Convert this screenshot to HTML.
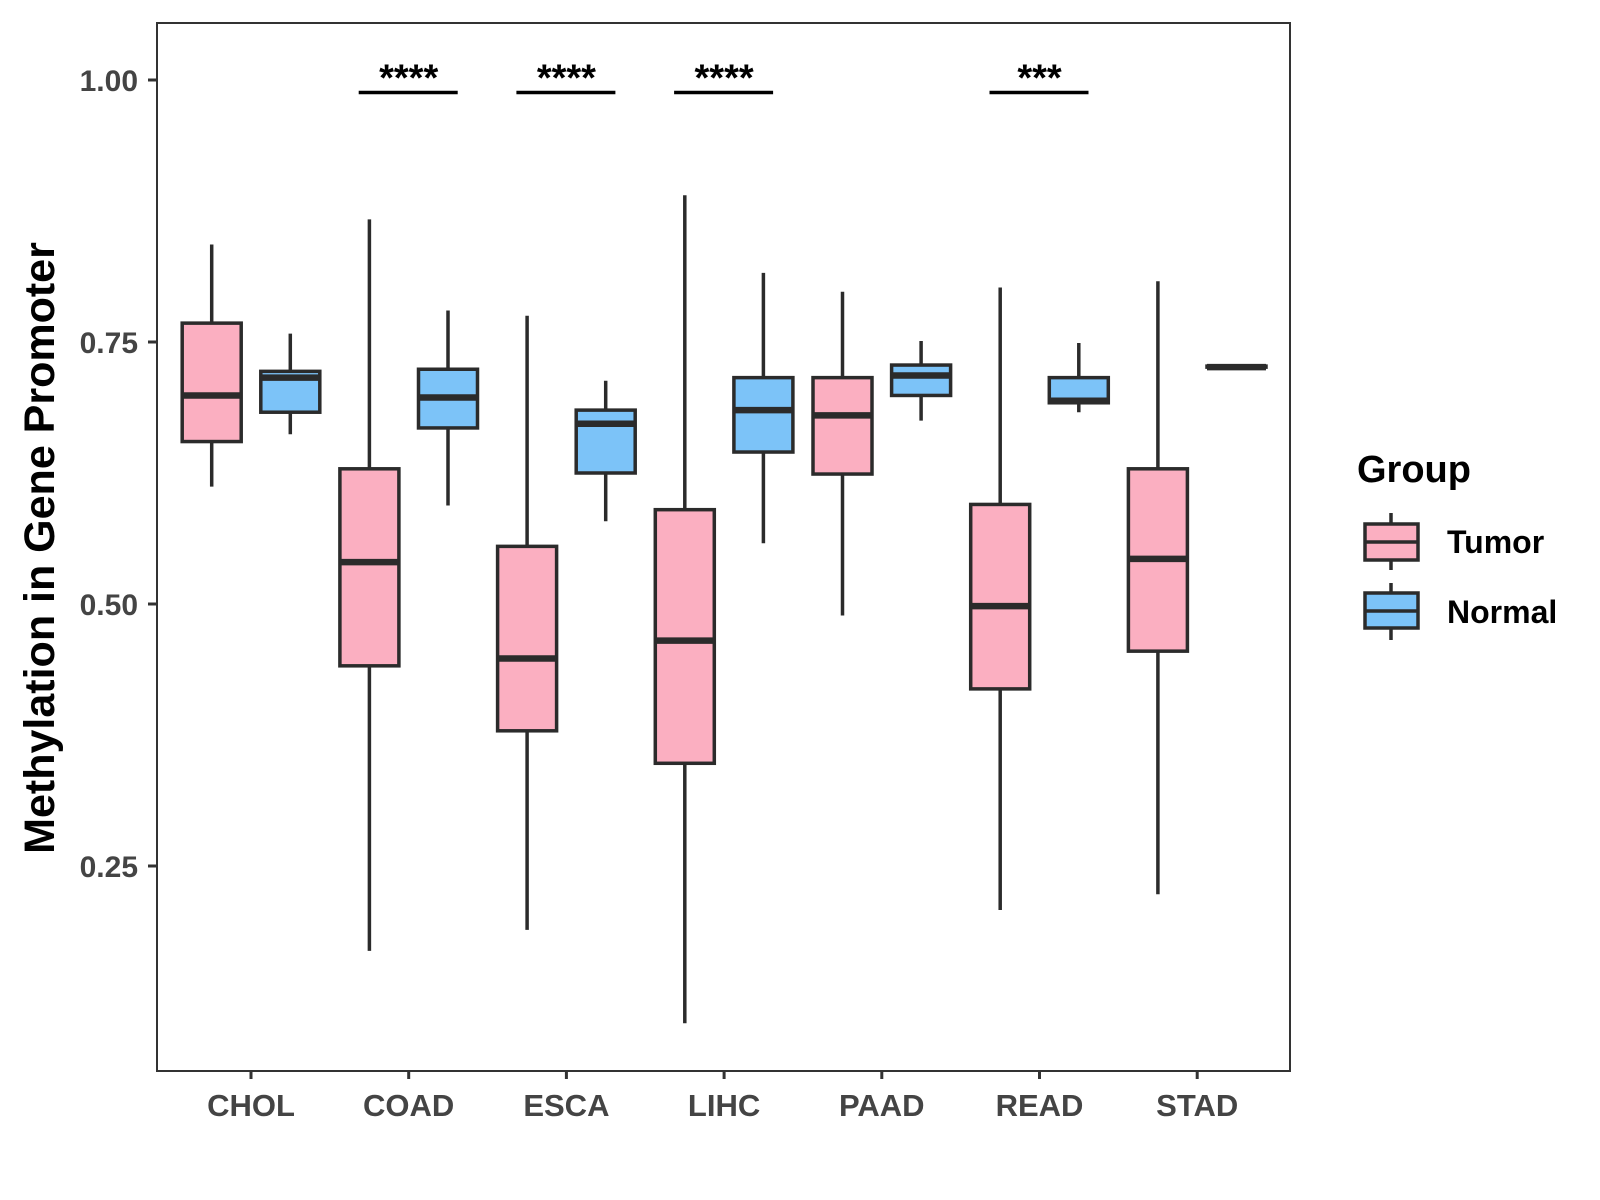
<!DOCTYPE html>
<html><head><meta charset="utf-8"><style>
body{margin:0;background:#fff}
svg{display:block;font-family:"Liberation Sans",Arial,sans-serif;font-weight:bold}
</style></head><body>
<svg id="chart" width="1600" height="1200" viewBox="0 0 1600 1200">
<rect x="157" y="23" width="1133" height="1048" fill="#fff" stroke="#333" stroke-width="2"/>
<g id="marks"></g>
<g id="axes"></g>
<text transform="translate(54,548) rotate(-90)" text-anchor="middle" font-size="43" fill="#000">Methylation in Gene Promoter</text>
<g>
<text x="1357" y="482" font-size="38" fill="#000">Group</text>
<g>
<line x1="1391" y1="513" x2="1391" y2="570" stroke="#2b2b2b" stroke-width="3.5"/>
<rect x="1365" y="524" width="53" height="36" fill="#FBAFC1" stroke="#2b2b2b" stroke-width="3.5"/>
<line x1="1365" y1="542" x2="1418" y2="542" stroke="#2b2b2b" stroke-width="3.5"/>
<text x="1447" y="553" font-size="32" fill="#000">Tumor</text>
</g>
<g>
<line x1="1391" y1="583" x2="1391" y2="640" stroke="#2b2b2b" stroke-width="3.5"/>
<rect x="1365" y="593" width="53" height="35" fill="#7CC3F8" stroke="#2b2b2b" stroke-width="3.5"/>
<line x1="1365" y1="611" x2="1418" y2="611" stroke="#2b2b2b" stroke-width="3.5"/>
<text x="1447" y="623" font-size="32" fill="#000">Normal</text>
</g>
</g>
</svg>
<script>
const categories=["CHOL","COAD","ESCA","LIHC","PAAD","READ","STAD"];
// [low whisker, Q1, median, Q3, high whisker]
const tumorStats=[[0.612,0.655,0.699,0.768,0.843],[0.169,0.441,0.540,0.629,0.867],[0.189,0.379,0.448,0.555,0.775],[0.100,0.348,0.465,0.590,0.890],[0.489,0.624,0.680,0.716,0.798],[0.208,0.419,0.498,0.595,0.802],[0.223,0.455,0.543,0.629,0.808]];
const normalStats=[[0.662,0.683,0.716,0.722,0.758],[0.594,0.668,0.697,0.724,0.780],[0.579,0.625,0.672,0.685,0.713],[0.558,0.645,0.685,0.716,0.816],[0.675,0.699,0.718,0.728,0.751],[0.683,0.692,0.694,0.716,0.749],[0.726,0.726,0.726,0.727,0.727]];
const yTicks=[0.25,0.50,0.75,1.00];
const yTickLabels=["0.25","0.50","0.75","1.00"];
const sigCategories=["COAD","ESCA","LIHC","READ"];
const sigLabels=["****","****","****","***"];
const sigLevel=0.99;

const NS="http://www.w3.org/2000/svg";
const y=v=>80+(1-v)*1048;
const x=i=>251+i*157.7;
function mk(tag,attrs,parent){const e=document.createElementNS(NS,tag);for(const k in attrs)e.setAttribute(k,attrs[k]);parent.appendChild(e);return e;}
const marks=document.getElementById('marks'),axes=document.getElementById('axes');
const W=59,off=39.3;
function box(cx,s,fill,name){
  const g=mk('g',{},marks);
  
  
  mk('line',{x1:cx,x2:cx,y1:y(s[4]),y2:y(s[0]),stroke:'#2b2b2b','stroke-width':3.5},g);
  mk('rect',{x:cx-W/2,y:y(s[3]),width:W,height:Math.max(0.1,y(s[1])-y(s[3])),fill:fill,stroke:'#2b2b2b','stroke-width':3.5},g);
  mk('line',{x1:cx-W/2,x2:cx+W/2,y1:y(s[2]),y2:y(s[2]),stroke:'#2b2b2b','stroke-width':6.5},g);
}
categories.forEach((c,i)=>{
  box(x(i)-off,tumorStats[i],'#FBAFC1','box-tumor-'+c.toLowerCase());
  box(x(i)+off,normalStats[i],'#7CC3F8','box-normal-'+c.toLowerCase());
  mk('line',{x1:x(i),x2:x(i),y1:1071,y2:1079,stroke:'#333','stroke-width':3},axes);
  const t=mk('text',{x:x(i),y:1116,'text-anchor':'middle','font-size':31,fill:'#444'},axes);
  
  
  t.textContent=c;
});
yTicks.forEach((v,i)=>{
  mk('line',{x1:148,x2:157,y1:y(v),y2:y(v),stroke:'#333','stroke-width':3},axes);
  const t=mk('text',{x:138,y:y(v)+11,'text-anchor':'end','font-size':30,fill:'#444'},axes);
  
  
  t.textContent=yTickLabels[i];
});
sigCategories.forEach((c,j)=>{
  const i=categories.indexOf(c);
  const g=mk('g',{},marks);
  
  
  mk('line',{x1:x(i)-50,x2:x(i)+49,y1:y(sigLevel)+2,y2:y(sigLevel)+2,stroke:'#000','stroke-width':3.5},g);
  const t=mk('text',{x:x(i),y:y(sigLevel),'text-anchor':'middle','font-size':38,fill:'#000'},g);
  t.textContent=sigLabels[j];
});
</script>
</body></html>
